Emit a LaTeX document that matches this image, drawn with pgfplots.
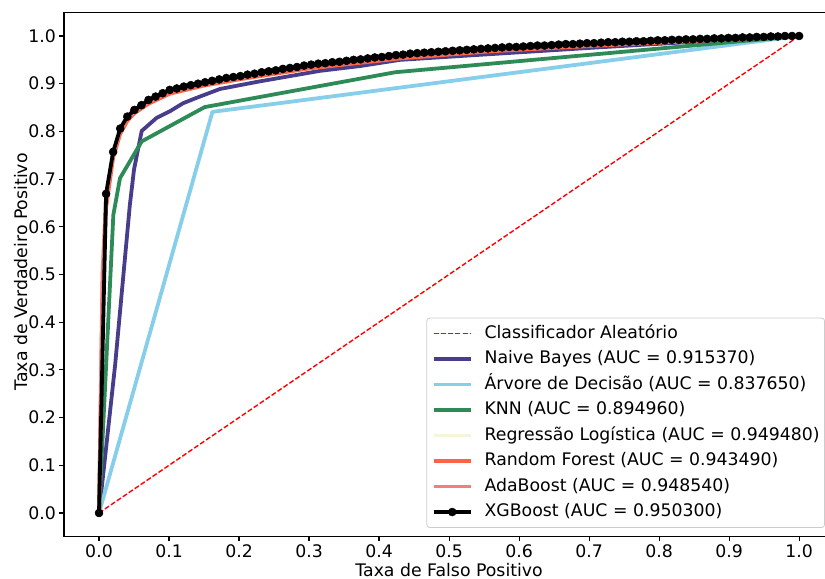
\documentclass[border=0pt]{standalone}
\usepackage{fontspec}
\setmainfont{DejaVu Sans}
\usepackage{pgfplots}
\pgfplotsset{compat=1.18}
\definecolor{nbcol}{RGB}{72,61,139}
\definecolor{dtcol}{RGB}{135,206,235}
\definecolor{knncol}{RGB}{46,139,87}
\definecolor{lrcol}{RGB}{245,245,220}
\definecolor{rfcol}{RGB}{255,99,71}
\definecolor{adacol}{RGB}{240,128,128}
\definecolor{randcol}{RGB}{255,0,0}
\begin{document}
\begin{tikzpicture}[font=\fontsize{17.3}{21}\selectfont]
\begin{axis}[name=ax, scale only axis, width=761pt, height=524.7pt,
  xmin=-0.05, xmax=1.037, ymin=-0.05, ymax=1.05,
  axis x line*=box, axis y line*=left,
  axis line style={-, line width=1.1pt, black},
  xtick={0,0.1,0.2,0.3,0.4,0.5,0.6,0.7,0.8,0.9,1},
  ytick={0,0.1,0.2,0.3,0.4,0.5,0.6,0.7,0.8,0.9,1},
  xticklabels={0.0,0.1,0.2,0.3,0.4,0.5,0.6,0.7,0.8,0.9,1.0},
  yticklabels={0.0,0.1,0.2,0.3,0.4,0.5,0.6,0.7,0.8,0.9,1.0},
  xtick pos=bottom, ytick pos=left, tick align=outside,
  major tick length=4.5pt, tick style={black, line width=1.1pt},
  xlabel={Taxa de Falso Positivo},
  ylabel={Taxa de Verdadeiro Positivo},
  xlabel style={at={(rel axis cs:0.506,0)}, anchor=north, inner sep=0pt, yshift=-26pt},
  ylabel style={at={(rel axis cs:-0.0475,0.505)}, anchor=south, inner sep=0pt},
  legend style={at={(1,0.017)}, anchor=south east, draw=black!20, line width=0.8pt,
    rounded corners=3pt, fill=white,
    inner xsep=5pt, inner ysep=7pt,
    row sep=8.5pt, column sep=12pt, cells={anchor=west},
    nodes={inner sep=0pt, text height=13pt, text depth=4pt}},
  legend image code/.code={\draw[mark repeat=2,mark phase=2,#1] plot coordinates {(0pt,0pt) (18.5pt,0pt) (37pt,0pt)};},
  every axis plot/.append style={line join=round},
]
\addplot[color=randcol, line width=1.4pt, dash pattern=on 5pt off 2.2pt,
  legend image code/.code={\draw[draw=randcol, solid, line width=1.6pt] (0pt,0pt) -- (5pt,0pt) (7.2pt,0pt) -- (12.2pt,0pt) (14.4pt,0pt) -- (19.4pt,0pt) (21.6pt,0pt) -- (26.6pt,0pt) (28.8pt,0pt) -- (33.8pt,0pt) (36pt,0pt) -- (37pt,0pt);}] coordinates {(0,0) (1,1)};
\addlegendentry{Classificador Aleatório}

\addplot[nbcol, line width=3.8pt] coordinates {
(0,0) (0.023,0.31) (0.044,0.645) (0.050,0.72) (0.061,0.801) (0.082,0.828) (0.101,0.842)
(0.120,0.859) (0.144,0.873) (0.173,0.889) (0.230,0.905) (0.316,0.927) (0.373,0.937)
(0.430,0.950) (0.559,0.962) (0.700,0.975) (0.850,0.988) (1,1)};
\addlegendentry{Naive Bayes (AUC = 0.915370)}

\addplot[dtcol, line width=3.8pt] coordinates {(0,0) (0.162,0.841) (1,1)};
\addlegendentry{Árvore de Decisão (AUC = 0.837650)}

\addplot[knncol, line width=3.8pt] coordinates {
(0,0) (0.0205,0.625) (0.030,0.702) (0.061,0.779) (0.151,0.851) (0.423,0.924) (1,1)};
\addlegendentry{KNN (AUC = 0.894960)}

\addplot[lrcol, line width=3.8pt] coordinates {
(0,0) (0.005,0.52) (0.0101,0.665) (0.0202,0.755) (0.0303,0.804) (0.0404,0.830) (0.0505,0.844)
(0.0707,0.865) (0.101,0.886) (0.15,0.902) (0.2,0.915) (0.3,0.939) (0.43,0.960) (0.56,0.974)
(0.7,0.984) (0.8,0.990) (0.9,0.996) (1,1)};
\addlegendentry{Regressão Logística (AUC = 0.949480)}

\addplot[rfcol, line width=3.8pt] coordinates {
(0,0) (0.005,0.45) (0.0101,0.64) (0.0202,0.745) (0.0303,0.795) (0.0404,0.822) (0.0505,0.838)
(0.0707,0.858) (0.101,0.879) (0.15,0.896) (0.2,0.909) (0.3,0.932) (0.43,0.953) (0.56,0.968)
(0.7,0.979) (0.8,0.986) (0.9,0.993) (1,1)};
\addlegendentry{Random Forest (AUC = 0.943490)}

\addplot[adacol, line width=3.8pt] coordinates {
(0,0) (0.005,0.50) (0.0101,0.66) (0.0202,0.752) (0.0303,0.802) (0.0404,0.828) (0.0505,0.842)
(0.0707,0.863) (0.101,0.884) (0.15,0.900) (0.2,0.913) (0.3,0.937) (0.43,0.958) (0.56,0.972)
(0.7,0.983) (0.8,0.989) (0.9,0.995) (1,1)};
\addlegendentry{AdaBoost (AUC = 0.948540)}

\addplot[black, line width=3.8pt, mark=*, mark size=4pt, mark options={solid, fill=black, line width=0.5pt}] coordinates {
(0,0) (0.0101,0.669) (0.0202,0.757) (0.0303,0.806) (0.0404,0.831) (0.0505,0.845)
(0.0606,0.855) (0.0707,0.866) (0.0808,0.873) (0.0909,0.880) (0.1010,0.887)
(0.1111,0.890) (0.1212,0.894) (0.1313,0.897) (0.1414,0.900) (0.1515,0.903)
(0.1616,0.906) (0.1717,0.909) (0.1818,0.912) (0.1919,0.914) (0.2020,0.916)
(0.2121,0.919) (0.2222,0.921) (0.2323,0.924) (0.2424,0.926) (0.2525,0.928)
(0.2626,0.931) (0.2727,0.933) (0.2828,0.935) (0.2929,0.938) (0.3030,0.940)
(0.3131,0.942) (0.3232,0.943) (0.3333,0.945) (0.3434,0.946) (0.3535,0.948)
(0.3636,0.950) (0.3737,0.951) (0.3838,0.953) (0.3939,0.955) (0.4040,0.956)
(0.4141,0.958) (0.4242,0.960) (0.4343,0.961) (0.4444,0.963) (0.4545,0.964)
(0.4646,0.965) (0.4747,0.966) (0.4848,0.967) (0.4949,0.968) (0.5051,0.969)
(0.5152,0.970) (0.5253,0.971) (0.5354,0.972) (0.5455,0.973) (0.5556,0.974)
(0.5657,0.975) (0.5758,0.976) (0.5859,0.977) (0.5960,0.977) (0.6061,0.978)
(0.6162,0.979) (0.6263,0.980) (0.6364,0.980) (0.6465,0.981) (0.6566,0.982)
(0.6667,0.983) (0.6768,0.983) (0.6869,0.984) (0.6970,0.985) (0.7071,0.985)
(0.7172,0.986) (0.7273,0.987) (0.7374,0.987) (0.7475,0.988) (0.7576,0.988)
(0.7677,0.989) (0.7778,0.989) (0.7879,0.990) (0.7980,0.991) (0.8081,0.991)
(0.8182,0.992) (0.8283,0.992) (0.8384,0.993) (0.8485,0.993) (0.8586,0.994)
(0.8687,0.994) (0.8788,0.995) (0.8889,0.995) (0.8990,0.996) (0.9091,0.996)
(0.9192,0.997) (0.9293,0.997) (0.9394,0.998) (0.9495,0.998) (0.9596,0.999)
(0.9697,0.999) (0.9798,1.000) (0.9899,1.000) (1.0000,1.000)};
\addlegendentry{XGBoost (AUC = 0.950300)}
\end{axis}
\pgfresetboundingbox
\path[use as bounding box] ([xshift=-64pt,yshift=-42.1pt]ax.south west) rectangle ([yshift=12.15pt]ax.north east);
\end{tikzpicture}
\end{document}
